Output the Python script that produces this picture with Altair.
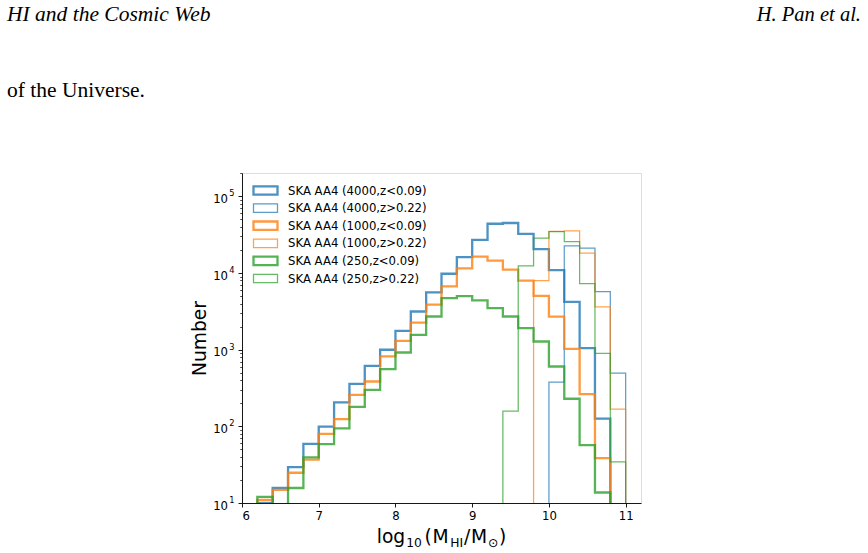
import altair as alt
import pandas as pd

# ---------------- data ----------------
bin_edges = [6.2, 6.4, 6.6, 6.8, 7.0, 7.2, 7.4, 7.6, 7.8, 8.0, 8.2, 8.4, 8.6,
             8.8, 9.0, 9.2, 9.4, 9.6, 9.8, 10.0, 10.2, 10.4, 10.6, 10.8, 11.0]

series_names = ["SKA AA4 (4000,z<0.09)", "SKA AA4 (4000,z>0.22)",
                "SKA AA4 (1000,z<0.09)", "SKA AA4 (1000,z>0.22)",
                "SKA AA4 (250,z<0.09)", "SKA AA4 (250,z>0.22)"]

# counts per 0.2-dex bin (0 = empty bin)
counts_4000_low = [10, 15.7, 29.4, 59, 99, 205, 359, 617, 998, 1760, 3150, 5600,
                   9800, 16100, 27100, 44000, 45000, 32500, 20500, 10900, 4200,
                   1050, 126, 0]
counts_4000_high = [0, 0, 0, 0, 0, 0, 0, 0, 0, 0, 0, 0, 0, 0, 0, 0, 0, 0, 0,
                    378, 22600, 21200, 5740, 495]
counts_1000_low = [11, 14.8, 24.8, 36.7, 80, 124, 258, 385, 817, 1306, 2260, 3880,
                   6700, 11500, 16400, 14500, 11100, 7950, 5050, 2700, 1025,
                   264, 38.6, 0]
counts_1000_high = [0, 0, 0, 0, 0, 0, 0, 0, 0, 0, 0, 0, 0, 0, 0, 0, 0, 0,
                    7980, 35000, 35500, 18200, 3630, 168]
counts_250_low = [12, 9, 15.7, 39.4, 58.8, 94, 179, 300, 558, 920, 1563, 2710,
                  4710, 5000, 4400, 3480, 2710, 1910, 1280, 604, 229, 57, 13.7, 0]
counts_250_high = [0, 0, 0, 0, 0, 0, 0, 0, 0, 0, 0, 0, 0, 0, 0, 0,
                   158, 12400, 28500, 34700, 25800, 7300, 895, 34.5]

all_counts = [counts_4000_low, counts_4000_high, counts_1000_low,
              counts_1000_high, counts_250_low, counts_250_high]

header_left = "HI and the Cosmic Web"
header_right = "H. Pan et al."
body_text = "of the Universe."
y_title = "Number"

# ---------------- styles ----------------
colors = ["#1f77b4", "#1f77b4", "#ff7f0e", "#ff7f0e", "#2ca02c", "#2ca02c"]
widths = [2.3, 1.25, 2.3, 1.25, 2.3, 1.25]
alphas = [0.8, 0.72, 0.8, 0.72, 0.8, 0.72]
FLOOR = 1.0  # below the visible range: outline drops to the bottom

rows = []
for s, counts in zip(series_names, all_counts):
    nz = [i for i, c in enumerate(counts) if c > 0]
    first, last = nz[0], nz[-1]
    k = 0
    rows.append(dict(series=s, x=bin_edges[first], y=FLOOR, o=k)); k += 1
    for i in range(first, last + 1):
        rows.append(dict(series=s, x=bin_edges[i], y=max(counts[i], FLOOR), o=k)); k += 1
    rows.append(dict(series=s, x=bin_edges[last + 1], y=counts[last], o=k)); k += 1
    rows.append(dict(series=s, x=bin_edges[last + 1], y=FLOOR, o=k))
df = pd.DataFrame(rows)

FONT = "DejaVu Sans"
W, H = 399, 330

x_scale = alt.Scale(domain=[6, 11.2], nice=False, zero=False)
y_scale = alt.Scale(type="log", domain=[10, 202000], nice=False)

x_axis = alt.Axis(values=[6, 7, 8, 9, 10, 11], format="d", title=None, grid=False,
                  tickSize=4, tickColor="black", tickWidth=0.9, domainColor="black",
                  domainWidth=0.9, labelPadding=3, labelFontSize=11.7,
                  labelFont=FONT, labelColor="black")

major_vals = [10, 100, 1000, 10000, 100000]
# base "10" of the y tick labels
y_axis_major = alt.Axis(values=major_vals, orient="left", labelExpr="'10'",
                        grid=False, tickSize=4, tickColor="black", tickWidth=0.9,
                        domainColor="black", domainWidth=0.9, labelPadding=10.5,
                        labelOffset=2, labelAlign="right",
                        labelFontSize=11.7, labelFont=FONT, labelColor="black",
                        title=y_title, titleFont=FONT, titleFontSize=18.7,
                        titleFontWeight="normal", titleColor="black",
                        titleAngle=270, titleAlign="center", titleBaseline="alphabetic",
                        titleX=-37, titleY=H / 2)
# exponent of the y tick labels
y_axis_exp = alt.Axis(values=major_vals, orient="left",
                      labelExpr="format(log(datum.value) / log(10), '.0f')",
                      grid=False, tickSize=4, tickOpacity=0, domain=False,
                      labelPadding=4, labelOffset=-2.5, labelAlign="right",
                      labelFontSize=8.3, labelFont=FONT, labelColor="black", title=None)
minor_vals = [m * 10 ** e for e in range(1, 6) for m in range(2, 10) if m * 10 ** e < 202000]
y_axis_minor = alt.Axis(values=minor_vals, orient="left", labels=False, grid=False,
                        tickSize=2.3, tickColor="black", tickWidth=0.7,
                        domain=False, title=None)

legend = alt.Legend(title=None, orient="none", legendX=17, legendY=11,
                    symbolType="M-2.4,-0.84H2.4V0.84H-2.4Z", symbolSize=100,
                    symbolFillColor="transparent",
                    labelFont=FONT, labelFontSize=11.7, labelColor="black",
                    labelOffset=16, rowPadding=1.1, padding=0)

y_axes = [y_axis_major, y_axis_minor, y_axis_exp, None, None, None]

layers = []
for idx, s in enumerate(series_names):
    layers.append(
        alt.Chart(df).transform_filter(alt.datum.series == s)
        .mark_line(interpolate="step-after", clip=True, strokeJoin="miter", strokeCap="butt")
        .encode(
            x=alt.X("x:Q", scale=x_scale, axis=x_axis),
            y=alt.Y("y:Q", scale=y_scale, axis=y_axes[idx]),
            order=alt.Order("o:Q"),
            color=alt.Color("series:N", scale=alt.Scale(type="ordinal", domain=series_names, range=colors), legend=legend),
            strokeWidth=alt.StrokeWidth("series:N", scale=alt.Scale(type="ordinal", domain=series_names, range=widths), legend=legend),
            opacity=alt.Opacity("series:N", scale=alt.Scale(type="ordinal", domain=series_names, range=alphas), legend=legend),
        )
    )

def txt(t, x, y, size, font=FONT, style="normal", align="left"):
    return alt.Chart(pd.DataFrame({"t": [t]})).mark_text(
        font=font, fontSize=size, fontStyle=style, align=align,
        baseline="alphabetic", color="black").encode(
        text="t:N", x=alt.value(x), y=alt.value(y))

SERIF = "Liberation Serif"
texts = [
    txt(header_left, -235, -152, 21.5, SERIF, "italic"),
    txt(header_right, 619, -152, 20.5, SERIF, "italic", "right"),
    txt(body_text, -235, -76, 21.5, SERIF),
]

# x axis title log10(M_HI/M_sun) built from pieces with sub-scripts
F, S = 18.7, 12.3
base, sub_base = 370.3, 373.5
pieces = [("log", 134.7, F, base), ("10", 164.3, S, sub_base), ("(", 182.5, F, base),
          ("M", 190.5, F, base), ("HI", 208.3, S, sub_base), ("/", 222, F, base),
          ("M", 229, F, base), ("\u2299", 246, S, sub_base), (")", 257, F, base)]
for t, x, sz, yb in pieces:
    texts.append(txt(t, x, yb, sz))

chart = alt.layer(*layers, *texts).resolve_axis(y="independent").properties(
    width=W, height=H,
    autosize=alt.AutoSizeParams(type="none"),
    padding={"left": 242, "top": 173, "right": 227, "bottom": 50},
).configure_view(stroke="black", strokeWidth=0.9).configure(background="white")

chart.save("out.html", embed_options={"renderer": "svg", "actions": False})
